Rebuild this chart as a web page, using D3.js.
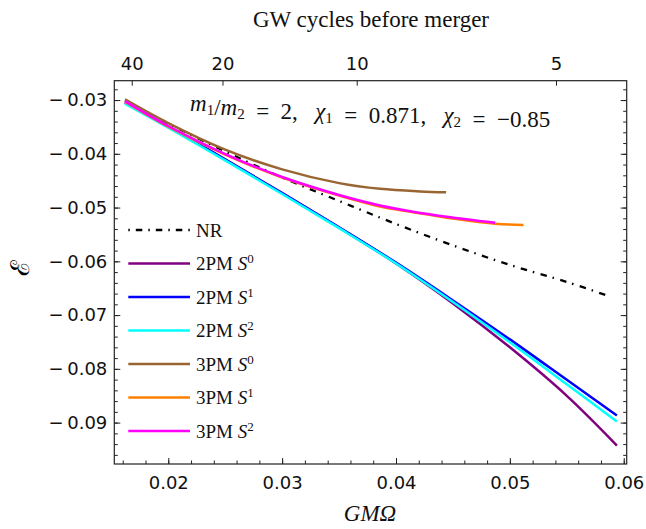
<!DOCTYPE html>
<html>
	<head>
		<meta charset='utf-8'>
		<title>Binding energy vs frequency</title>
		<script src="https://d3js.org/d3.v7.min.js"></script>
		<style>
			body { margin: 0; background: #fff; }
			.tick text { font-family: "DejaVu Sans", sans-serif; font-size: 18px; fill: #111; }
			.tick line { stroke: #222; stroke-width: 1px; }
			.serif { font-family: "Liberation Serif", "DejaVu Serif", serif; fill: #111; white-space: pre; }
		</style>
	</head>
	<body>
		<script>
			var width = 646;
			var height = 529;

			// GW cycles on the top axis, placed at their GMOmega positions
			var cycleLabels = [40, 20, 10, 5];
			var cycleOmega = [0.01679, 0.02476, 0.03655, 0.05405];

			// series: GMOmega and binding energy
			var nrOmega = [0.0162, 0.02, 0.025, 0.03, 0.035, 0.04, 0.045, 0.05, 0.055, 0.0588];
			var nrE = [-0.03009, -0.03437, -0.03957, -0.04441, -0.04877, -0.05305, -0.05704, -0.06067, -0.06383, -0.06656];

			var pm2Omega = [0.0162, 0.02, 0.025, 0.03, 0.035, 0.04, 0.045, 0.05, 0.055, 0.0594];
			var pm2S0 = [-0.03046, -0.03493, -0.04102, -0.04729, -0.05370, -0.06039, -0.06783, -0.07600, -0.08502, -0.09426];
			var pm2S1 = [-0.03046, -0.03498, -0.04108, -0.04732, -0.05368, -0.06024, -0.06727, -0.07452, -0.08204, -0.08868];
			var pm2S2 = [-0.03065, -0.03513, -0.04123, -0.04747, -0.05383, -0.06039, -0.06755, -0.07507, -0.08288, -0.08980];

			var pm3S0Omega = [0.0162, 0.02, 0.025, 0.03, 0.035, 0.0386, 0.0421, 0.0444];
			var pm3S0 = [-0.02987, -0.03428, -0.03922, -0.04290, -0.04545, -0.04652, -0.04700, -0.04716];

			var pm3S1Omega = [0.0162, 0.02, 0.025, 0.03, 0.035, 0.0386, 0.0415, 0.04445, 0.0487, 0.0512];
			var pm3S1 = [-0.03028, -0.03493, -0.04013, -0.04441, -0.04775, -0.04980, -0.05087, -0.05188, -0.05299, -0.05323];

			var pm3S2Omega = [0.0162, 0.02, 0.025, 0.03, 0.035, 0.0386, 0.0415, 0.04445, 0.0487];
			var pm3S2 = [-0.03019, -0.03483, -0.04004, -0.04431, -0.04766, -0.04961, -0.05076, -0.05169, -0.05281];

			var legendOrders = ["2", "2", "2", "3", "3", "3"];
			var legendPowers = ["0", "1", "2", "0", "1", "2"];
			var colors = ["#800080", "#0000ff", "#00ffff", "#996633", "#ff8000", "#ff00ff"];

			var series = [
				{ omega: pm2Omega, e: pm2S0 },
				{ omega: pm2Omega, e: pm2S1 },
				{ omega: pm2Omega, e: pm2S2 },
				{ omega: pm3S0Omega, e: pm3S0 },
				{ omega: pm3S1Omega, e: pm3S1 },
				{ omega: pm3S2Omega, e: pm3S2 }
			];

			// frame edges (note: "top" is reserved on window, so prefix them)
			var fLeft = 114.3, fRight = 626.7, fTop = 80.7, fBottom = 464;

			var svg = d3.select("body").append("svg")
				.attr("width", width)
				.attr("height", height);

			var x = d3.scaleLinear().domain([0.01526, 0.06026]).range([fLeft, fRight]);
			var y = d3.scaleLinear().domain([-0.0977, -0.0264]).range([fBottom, fTop]);

			var xMinor = d3.range(0.016, 0.0603, 0.002);
			var yMinor = d3.range(-0.096, -0.026, 0.002);
			var xMajor = [0.02, 0.03, 0.04, 0.05, 0.06];
			var yMajor = [-0.03, -0.04, -0.05, -0.06, -0.07, -0.08, -0.09];

			function clean(g) { g.select(".domain").remove(); }

			// bottom
			svg.append("g").attr("transform", "translate(0," + fBottom + ")")
				.call(d3.axisBottom(x).tickValues(xMinor).tickSize(-3.5).tickFormat(""))
				.call(clean);
			svg.append("g").attr("transform", "translate(0," + fBottom + ")")
				.call(d3.axisBottom(x).tickValues(xMajor).tickSize(-6).tickPadding(12.5).tickFormat(d3.format(".2f")))
				.call(clean);

			// top: cycles before merger
			svg.append("g").attr("transform", "translate(0," + fTop + ")")
				.call(d3.axisTop(x).tickValues(cycleOmega).tickSize(-5).tickPadding(10.7)
					.tickFormat(function(d, i) { return cycleLabels[i]; }))
				.call(clean);

			// left
			svg.append("g").attr("transform", "translate(" + fLeft + ",0)")
				.call(d3.axisLeft(y).tickValues(yMinor).tickSize(-3.5).tickFormat(""))
				.call(clean);
			svg.append("g").attr("transform", "translate(" + fLeft + ",0)")
				.call(d3.axisLeft(y).tickValues(yMajor).tickSize(-6).tickPadding(7)
					.tickFormat(function(d) { return "\u2212\u2009" + d3.format(".2f")(-d); }))
				.call(clean);

			// right
			svg.append("g").attr("transform", "translate(" + fRight + ",0)")
				.call(d3.axisRight(y).tickValues(yMinor).tickSize(-3.5).tickFormat(""))
				.call(clean);
			svg.append("g").attr("transform", "translate(" + fRight + ",0)")
				.call(d3.axisRight(y).tickValues(yMajor).tickSize(-6).tickFormat(""))
				.call(clean);

			svg.append("rect")
				.attr("x", fLeft).attr("y", fTop)
				.attr("width", fRight - fLeft).attr("height", fBottom - fTop)
				.attr("fill", "none").attr("stroke", "#222").attr("stroke-width", 1.2);

			var line = d3.line()
				.x(function(d) { return x(d[0]); })
				.y(function(d) { return y(d[1]); })
				.curve(d3.curveCatmullRom.alpha(0.5));

			var plot = svg.append("g");

			plot.append("path")
				.attr("d", line(d3.zip(nrOmega, nrE)))
				.attr("fill", "none")
				.attr("stroke", "#000")
				.attr("stroke-width", 2.3)
				.attr("stroke-dasharray", "6.5,6,1.5,6.5");

			series.forEach(function(s, i) {
				plot.append("path")
					.attr("d", line(d3.zip(s.omega, s.e)))
					.attr("fill", "none")
					.attr("stroke", colors[i])
					.attr("stroke-width", 2.5);
			});

			// legend
			var legendY = [230, 263.5, 297, 330.5, 364, 397.5, 431];
			var lg = svg.append("g");
			lg.append("line")
				.attr("x1", 128.3).attr("x2", 190)
				.attr("y1", legendY[0]).attr("y2", legendY[0])
				.attr("stroke", "#000").attr("stroke-width", 2.3)
				.attr("stroke-dasharray", "1.5,6,6.5,6");
			lg.append("text").attr("class", "serif")
				.attr("x", 196).attr("y", legendY[0] + 6.5)
				.style("font-size", "19px")
				.text("NR");
			for (var i = 0; i < colors.length; i++) {
				var ly = legendY[i + 1];
				lg.append("line")
					.attr("x1", 128.3).attr("x2", 190)
					.attr("y1", ly).attr("y2", ly)
					.attr("stroke", colors[i]).attr("stroke-width", 2.5);
				var t = lg.append("text").attr("class", "serif")
					.attr("x", 196).attr("y", ly + 6.5)
					.style("font-size", "19px");
				t.append("tspan").text(legendOrders[i] + "PM ");
				t.append("tspan").style("font-style", "italic").text("S");
				t.append("tspan").attr("dy", -7).style("font-size", "13px").text(legendPowers[i]);
			}

			// annotation
			var ann = svg.append("text").attr("class", "serif")
				.attr("x", 190).attr("y", 111)
				.style("font-size", "23px");
			function part(txt, it) {
				ann.append("tspan").style("font-style", it ? "italic" : "normal").text(txt);
			}
			function sub(txt) {
				ann.append("tspan").attr("dy", 4).style("font-size", "15px").text(txt);
				ann.append("tspan").attr("dy", -4).text("");
			}
			part("m", true); sub("1"); part("/", false); part("m", true); sub("2");
			part("  =  2,   ", false); part("\u03c7", true); sub("1");
			part("  =  0.871,   ", false); part("\u03c7", true); sub("2");
			part("  =  \u22120.85", false);

			// titles
			svg.append("text").attr("class", "serif")
				.attr("x", 371).attr("y", 27)
				.attr("text-anchor", "middle")
				.style("font-size", "23px")
				.text("GW cycles before merger");

			svg.append("text").attr("class", "serif")
				.attr("x", 370).attr("y", 521)
				.attr("text-anchor", "middle")
				.style("font-size", "23px")
				.style("font-style", "italic")
				.text("GM\u03a9");

			svg.append("text")
				.attr("transform", "translate(29,268) rotate(-90)")
				.attr("text-anchor", "middle")
				.style("font-family", "DejaVu Serif, serif")
				.style("font-size", "26px")
				.text("\u2130");
		</script>
	</body>
</html>
